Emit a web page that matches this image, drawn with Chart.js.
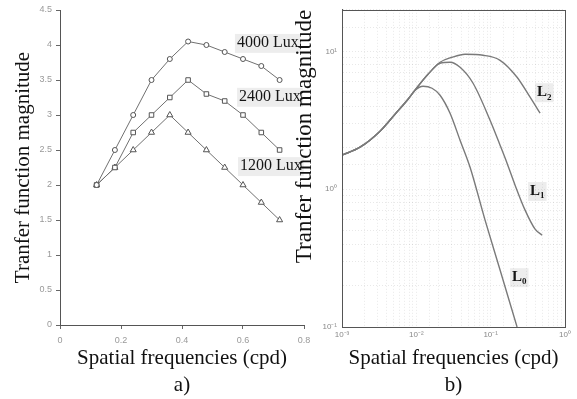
<!DOCTYPE html>
<html>
<head>
<meta charset="utf-8">
<script src="https://cdn.jsdelivr.net/npm/chart.js@4.4.1/dist/chart.umd.min.js"></script>
<style>
html,body{margin:0;padding:0;background:#fff;}
#wrap{position:relative;width:577px;height:399px;overflow:hidden;background:#fff;}
canvas{position:absolute;top:0;}
#left{left:0;}
#right{left:290px;}
</style>
</head>
<body>
<div id="wrap">
<canvas id="left" width="320" height="399"></canvas>
<canvas id="right" width="287" height="399"></canvas>
</div>
<script>
// ---- a) measured transfer function, three illuminations
const freqA = [0.12, 0.18, 0.24, 0.30, 0.36, 0.42, 0.48, 0.54, 0.60, 0.66, 0.72];
const lux4000 = [2.0, 2.5, 3.0, 3.5, 3.8, 4.05, 4.0, 3.9, 3.8, 3.7, 3.5];
const lux2400 = [2.0, 2.25, 2.75, 3.0, 3.25, 3.5, 3.3, 3.2, 3.0, 2.75, 2.5];
const lux1200 = [2.0, 2.25, 2.5, 2.75, 3.0, 2.75, 2.5, 2.25, 2.0, 1.75, 1.5];
const luxNames = ['4000 Lux', '2400 Lux', '1200 Lux'];
const luxLabelX = [0.58, 0.587, 0.59];
const luxLabelY = [4.03, 3.26, 2.27];

// ---- b) model curves (log-log)
const freqL0 = [0.001, 0.001747, 0.003246, 0.005167, 0.007733, 0.00961, 0.01231, 0.01627, 0.02085, 0.02842, 0.03874, 0.05282, 0.08408, 0.1338, 0.2266];
const magL0  = [1.763, 2.015, 2.633, 3.496, 4.489, 5.217, 5.577, 5.394, 4.80, 3.554, 2.265, 1.443, 0.596, 0.259, 0.1];
const freqL1 = [0.001, 0.001747, 0.003246, 0.005167, 0.007733, 0.01054, 0.01437, 0.02085, 0.02842, 0.03874, 0.05797, 0.09815, 0.1338, 0.1662, 0.2130, 0.2904, 0.3959, 0.4918];
const magL1  = [1.763, 2.015, 2.633, 3.496, 4.489, 5.577, 6.81, 8.185, 8.323, 7.656, 5.864, 3.162, 2.084, 1.543, 1.069, 0.7045, 0.513, 0.4642];
const freqL2 = [0.001, 0.001747, 0.003246, 0.005167, 0.007733, 0.01054, 0.01437, 0.02085, 0.03023, 0.04523, 0.07902, 0.1338, 0.2266, 0.3391, 0.4623];
const magL2  = [1.763, 2.015, 2.633, 3.496, 4.489, 5.577, 6.81, 8.323, 9.048, 9.513, 9.355, 8.605, 6.48, 4.642, 3.554];
const lNames = ['L', 'L', 'L'];
const lSubs = ['0', '1', '2'];
const lLabelX = [0.194, 0.339, 0.42];
const lLabelY = [0.23, 0.97, 5.05];

const serif = 'Liberation Serif, DejaVu Serif, serif';
const sans = 'Liberation Sans, Arial, sans-serif';

function pts(xs, ys) { return xs.map((x, i) => ({x: x, y: ys[i]})); }

const supMap = {'-': '\u207B', '0': '\u2070', '1': '\u00B9', '2': '\u00B2', '3': '\u00B3'};
function decadeLabel(v) {
  const e = Math.log10(v), r = Math.round(e);
  if (Math.abs(e - r) > 1e-6) return '';
  return '10' + String(r).split('').map(c => supMap[c]).join('');
}

// text labels placed at data coordinates
const textLabels = {
  id: 'textLabels',
  afterDatasetsDraw(chart, args, opts) {
    const ctx = chart.ctx, xs = chart.scales.x, ys = chart.scales.y;
    ctx.save();
    ctx.textBaseline = 'middle';
    opts.items.forEach(it => {
      const px = xs.getPixelForValue(it.x), py = ys.getPixelForValue(it.y);
      ctx.font = opts.font;
      const w1 = ctx.measureText(it.text).width;
      let w = w1;
      if (it.sub) { ctx.font = opts.subFont; w += ctx.measureText(it.sub).width; }
      ctx.fillStyle = 'rgba(0,0,0,0.07)';
      ctx.fillRect(px - 2, py - 9, w + 4, 19);
      ctx.fillStyle = '#151515';
      ctx.font = opts.font;
      ctx.fillText(it.text, px, py);
      if (it.sub) { ctx.font = opts.subFont; ctx.fillText(it.sub, px + w1, py + 5); }
    });
    ctx.restore();
  }
};

const frame = {
  id: 'frame',
  afterDraw(chart) {
    const a = chart.chartArea, ctx = chart.ctx;
    ctx.save();
    ctx.strokeStyle = '#555';
    ctx.lineWidth = 1;
    ctx.strokeRect(Math.round(a.left) + 0.5, Math.round(a.top) + 0.5, Math.round(a.right - a.left), Math.round(a.bottom - a.top));
    ctx.restore();
  }
};

// ---------- chart a)
const lineStyle = {showLine: true, borderColor: '#707070', borderWidth: 1, pointBorderColor: '#555', pointBorderWidth: 1, pointBackgroundColor: '#fff'};
new Chart(document.getElementById('left'), {
  type: 'scatter',
  data: {
    datasets: [
      Object.assign({label: luxNames[0], data: pts(freqA, lux4000), pointStyle: 'circle', pointRadius: 2.5}, lineStyle),
      Object.assign({label: luxNames[1], data: pts(freqA, lux2400), pointStyle: 'rect', pointRadius: 3.2}, lineStyle,
        {pointBackgroundColor: c => c.dataIndex === 0 ? '#333' : '#fff'}),
      Object.assign({label: luxNames[2], data: pts(freqA, lux1200), pointStyle: 'triangle', pointRadius: 3.5}, lineStyle)
    ]
  },
  plugins: [textLabels],
  options: {
    responsive: false,
    animation: false,
    devicePixelRatio: 1,
    layout: {padding: {top: 10, right: 16, left: 0, bottom: 0}},
    plugins: {
      legend: {display: false},
      tooltip: {enabled: false},
      textLabels: {
        font: '16px ' + serif,
        items: luxNames.map((t, i) => ({text: t, x: luxLabelX[i], y: luxLabelY[i]}))
      }
    },
    scales: {
      x: {
        type: 'linear', min: 0, max: 0.8,
        afterFit: s => { s.height = 74; },
        ticks: {stepSize: 0.2, callback: v => String(+v.toFixed(2)), font: {family: sans, size: 9}, color: '#999', padding: 6, maxRotation: 0},
        grid: {drawOnChartArea: false, color: '#666', tickLength: 4},
        border: {color: '#555', width: 1},
        title: {display: true, text: ['Spatial frequencies (cpd)', 'a)'], font: {family: serif, size: 21, lineHeight: 1.29}, color: '#111', padding: {top: 0, bottom: 0}}
      },
      y: {
        type: 'linear', min: 0, max: 4.5,
        afterFit: s => { s.width = 60; },
        ticks: {stepSize: 0.5, callback: v => String(+v.toFixed(2)), font: {family: sans, size: 9}, color: '#999', padding: 4},
        grid: {drawOnChartArea: false, color: '#666', tickLength: 4},
        border: {color: '#555', width: 1},
        title: {display: true, text: 'Tranfer function magnitude', font: {family: serif, size: 21, lineHeight: 1.1}, color: '#111', padding: {top: 12, bottom: 0}}
      }
    }
  }
});

// ---------- chart b)
const curveStyle = {showLine: true, borderColor: '#7a7a7a', borderWidth: 1.4, pointRadius: 0, cubicInterpolationMode: 'monotone'};
new Chart(document.getElementById('right'), {
  type: 'scatter',
  data: {
    datasets: [
      Object.assign({label: 'L0', data: pts(freqL0, magL0)}, curveStyle),
      Object.assign({label: 'L1', data: pts(freqL1, magL1)}, curveStyle),
      Object.assign({label: 'L2', data: pts(freqL2, magL2)}, curveStyle)
    ]
  },
  plugins: [textLabels, frame],
  options: {
    responsive: false,
    animation: false,
    devicePixelRatio: 1,
    layout: {padding: {top: 8, right: 12, left: 0, bottom: 0}},
    plugins: {
      legend: {display: false},
      tooltip: {enabled: false},
      textLabels: {
        font: 'bold 15px ' + serif,
        subFont: 'bold 9px ' + serif,
        items: lNames.map((t, i) => ({text: t, sub: lSubs[i], x: lLabelX[i], y: lLabelY[i]}))
      }
    },
    scales: {
      x: {
        type: 'logarithmic', min: 0.001, max: 1,
        afterFit: s => { s.height = 72; },
        ticks: {autoSkip: false, maxRotation: 0, callback: v => decadeLabel(v), font: {family: sans, size: 8}, color: '#888', padding: 3},
        grid: {color: 'rgba(0,0,0,0.09)', drawTicks: false},
        border: {color: '#555', width: 1, dash: [1, 2]},
        title: {display: true, text: ['Spatial frequencies (cpd)', 'b)'], font: {family: serif, size: 21, lineHeight: 1.29}, color: '#111', padding: {top: 0, bottom: 0}}
      },
      y: {
        type: 'logarithmic', min: 0.1, max: 20,
        afterFit: s => { s.width = 52; },
        ticks: {autoSkip: false, callback: v => decadeLabel(v), font: {family: sans, size: 8}, color: '#888', padding: 5},
        grid: {color: 'rgba(0,0,0,0.09)', drawTicks: false},
        border: {color: '#555', width: 1, dash: [1, 2]},
        title: {display: true, text: 'Tranfer function magnitude', align: 'end', font: {family: serif, size: 23, lineHeight: 1.1}, color: '#111', padding: {top: 2, bottom: 0}}
      }
    }
  }
});
</script>
</body>
</html>
